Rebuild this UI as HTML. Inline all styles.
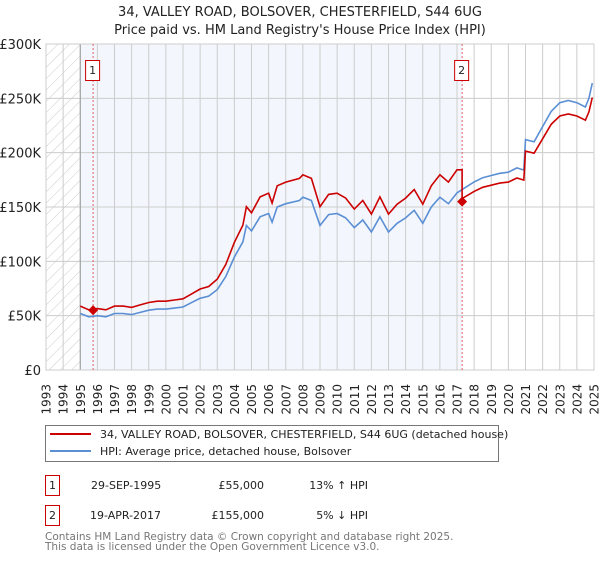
<!DOCTYPE html>
<html><head><meta charset="utf-8"><style>
body{margin:0;background:#fff;font-family:"DejaVu Sans","Liberation Sans",sans-serif;}
svg text{font-family:"DejaVu Sans","Liberation Sans",sans-serif;}
</style></head><body>
<svg id="c" width="600" height="560" xmlns="http://www.w3.org/2000/svg">
<defs><pattern id="hatch" width="8" height="8" patternUnits="userSpaceOnUse" patternTransform="rotate(45)"><line x1="0" y1="0" x2="0" y2="8" stroke="#ccc" stroke-width="1"/></pattern></defs>
<text x="300" y="16" text-anchor="middle" font-size="13" fill="#222">34, VALLEY ROAD, BOLSOVER, CHESTERFIELD, S44 6UG</text>
<text x="300" y="34" text-anchor="middle" font-size="13" fill="#222">Price paid vs. HM Land Registry's House Price Index (HPI)</text>
<g id="plot"></g>
<g>
<rect x="45.5" y="425.5" width="453" height="36" fill="#fff" stroke="#777"/>
<line x1="50" y1="434" x2="91" y2="434" stroke="#cc0000" stroke-width="2"/>
<text x="100" y="438" font-size="11" fill="#222">34, VALLEY ROAD, BOLSOVER, CHESTERFIELD, S44 6UG (detached house)</text>
<line x1="50" y1="451" x2="91" y2="451" stroke="#5b8fd4" stroke-width="2"/>
<text x="100" y="455" font-size="11" fill="#222">HPI: Average price, detached house, Bolsover</text>
</g>
<g font-size="11" fill="#222">
<rect x="45.5" y="475.5" width="14" height="20" fill="#fff" stroke="#cc0000"/><text x="52.5" y="489" text-anchor="middle">1</text>
<text x="91" y="489">29-SEP-1995</text><text x="264" y="489" text-anchor="end">£55,000</text><text x="368" y="489" text-anchor="end">13% ↑ HPI</text>
<rect x="45.5" y="505.5" width="14" height="20" fill="#fff" stroke="#cc0000"/><text x="52.5" y="519" text-anchor="middle">2</text>
<text x="90" y="519">19-APR-2017</text><text x="264" y="519" text-anchor="end">£155,000</text><text x="368" y="519" text-anchor="end">5% ↓ HPI</text>
</g>
<text x="45" y="540" font-size="10.5" fill="#777">Contains HM Land Registry data © Crown copyright and database right 2025.</text>
<text x="45" y="550" font-size="10.5" fill="#777">This data is licensed under the Open Government Licence v3.0.</text>
</svg>
<script>
const hpiYears=[1995,1995.5,1996,1996.5,1997,1997.5,1998,1998.5,1999,1999.5,2000,2000.5,2001,2001.5,2002,2002.5,2003,2003.5,2004,2004.5,2004.7,2005,2005.5,2006,2006.2,2006.5,2007,2007.8,2008,2008.5,2009,2009.5,2010,2010.5,2011,2011.5,2012,2012.5,2013,2013.5,2014,2014.5,2015,2015.5,2016,2016.5,2017,2017.3,2018,2018.5,2019,2019.5,2020,2020.5,2020.9,2021.0,2021.5,2022,2022.5,2023,2023.5,2024,2024.5,2024.7,2024.9];
const hpiValues=[52,49,50,49,52,52,51,53,55,56,56,57,58,62,66,68,74,86,104,118,133,128,141,144,136,150,153,156,159,156,133,143,144,140,131,138,127,141,127,135,140,147,135,150,159,153,163,166,173,177,179,181,182,186,184,212,210,224,238,246,248,246,242,250,264];
const saleYears=[1995.75,2017.3];
const salePrices=[55,155];
const saleRatios=[1.13,0.95];
const yTicks=[0,50,100,150,200,250,300];
const yTickLabels=["£0","£50K","£100K","£150K","£200K","£250K","£300K"];
const xTicks=[1993,1994,1995,1996,1997,1998,1999,2000,2001,2002,2003,2004,2005,2006,2007,2008,2009,2010,2011,2012,2013,2014,2015,2016,2017,2018,2019,2020,2021,2022,2023,2024,2025];

const NS="http://www.w3.org/2000/svg";
const L=46,R=594,T=44,B=370;
const xs=y=>L+(y-1993)/(2025-1993)*(R-L);
const ys=v=>B-v/300*(B-T);
const g=document.getElementById('plot');
function mk(tag,at,parent){const e=document.createElementNS(NS,tag);for(const k in at)e.setAttribute(k,at[k]);(parent||g).appendChild(e);return e;}

let e;
e=mk('rect',{x:xs(1995),y:T,width:xs(saleYears[1])-xs(1995),height:B-T,fill:'#eef3fc',opacity:0.7});


e=mk('rect',{x:L,y:T,width:xs(1995)-L,height:B-T,fill:'url(#hatch)'});


xTicks.forEach(t=>{
  e=mk('line',{x1:xs(t),x2:xs(t),y1:T,y2:B,stroke:'#ccc','stroke-width':1});
  
  
  const tx=mk('text',{x:0,y:0,'font-size':12,fill:'#222','text-anchor':'end',transform:`translate(${xs(t)+4.5},${B+14}) rotate(-90)`});
  tx.textContent=t;
  
  
});
yTicks.forEach((t,i)=>{
  e=mk('line',{x1:L,x2:R,y1:ys(t),y2:ys(t),stroke:'#ccc','stroke-width':1});
  
  
  const tx=mk('text',{x:L-5,y:ys(t)+5,'font-size':13,fill:'#222','text-anchor':'end'});
  tx.textContent=yTickLabels[i];
  
  
});
e=mk('line',{x1:xs(1995),x2:xs(1995),y1:T,y2:B,stroke:'#999'});


e=mk('rect',{x:L,y:T,width:R-L,height:B-T,fill:'none',stroke:'#ccc'});



saleYears.forEach((s,i)=>{
  e=mk('line',{x1:xs(s),x2:xs(s),y1:T,y2:B,stroke:'#e06060','stroke-dasharray':'2,2','stroke-width':1});
  
  
});

const hpiPts=hpiYears.map((y,i)=>xs(y).toFixed(1)+','+ys(hpiValues[i]).toFixed(1)).join(' ');
e=mk('polyline',{points:hpiPts,fill:'none',stroke:'#5b8fd4','stroke-width':1.6});



const redPts=[];
hpiYears.forEach((y,i)=>{
  if(i>0&&hpiYears[i-1]<saleYears[1]&&y>=saleYears[1]){
    redPts.push([xs(saleYears[1]),ys(salePrices[1]*saleRatios[0]/saleRatios[1]*1.0*0+ (hpiValues[i-1]*saleRatios[0]))]);
    redPts.push([xs(saleYears[1]),ys(salePrices[1])]);
  }
  const r=y<saleYears[1]?saleRatios[0]:saleRatios[1];
  redPts.push([xs(y),ys(hpiValues[i]*r)]);
});
e=mk('polyline',{points:redPts.map(p=>p[0].toFixed(1)+','+p[1].toFixed(1)).join(' '),fill:'none',stroke:'#cc0000','stroke-width':1.6});



saleYears.forEach((s,i)=>{
  const cx=xs(s),cy=ys(salePrices[i]);
  e=mk('polygon',{points:`${cx},${cy-5} ${cx+5},${cy} ${cx},${cy+5} ${cx-5},${cy}`,fill:'#cc0000'});
  
  
  const bx=cx-(i==0?7:7);
  e=mk('rect',{x:bx-0.5,y:60.5,width:14,height:20,fill:'#fff',stroke:'#cc0000'});
  
  
  const tx=mk('text',{x:bx+6.5,y:74,'font-size':11,fill:'#222','text-anchor':'middle'});
  tx.textContent=String(i+1);
  
  
});
</script>
</body></html>
